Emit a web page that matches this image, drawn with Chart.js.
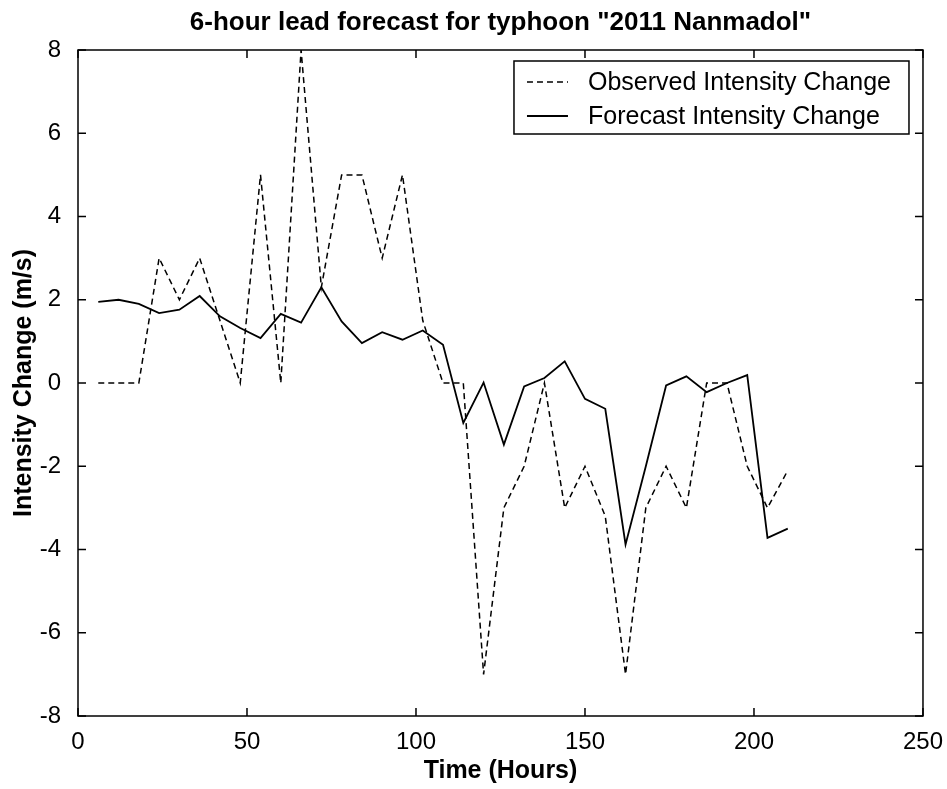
<!DOCTYPE html>
<html>
<head>
<meta charset="utf-8">
<script src="https://cdn.jsdelivr.net/npm/chart.js@4"></script>
<style>
  html, body { margin: 0; padding: 0; background: #fff; }
  #wrap { width: 947px; height: 789px; }
</style>
</head>
<body>
<div id="wrap"><canvas id="chart"></canvas></div>
<script>
// time axis, every 6 hours
var hours = [6, 12, 18, 24, 30, 36, 42, 48, 54, 60, 66, 72, 78, 84, 90, 96, 102, 108, 114, 120,
             126, 132, 138, 144, 150, 156, 162, 168, 174, 180, 186, 192, 198, 204, 210];
var observed = [0, 0, 0, 3, 2, 3, 1.5, 0, 5, 0, 8, 2.3, 5, 5, 3, 5, 1.5, 0, 0, -7,
                -3, -2, 0, -3, -2, -3.2, -7, -3, -2, -3, 0, 0, -2, -3, -2.1];
var forecast = [1.95, 2.0, 1.9, 1.68, 1.76, 2.09, 1.6, 1.32, 1.08, 1.66, 1.45, 2.3, 1.48, 0.96, 1.22, 1.04, 1.26, 0.92, -0.96, 0.01,
                -1.48, -0.08, 0.12, 0.52, -0.38, -0.62, -3.88, -2.0, -0.06, 0.16, -0.22, 0.0, 0.19, -3.72, -3.5];
var xTicks = [0, 50, 100, 150, 200, 250];
var yTicks = [-8, -6, -4, -2, 0, 2, 4, 6, 8];
var titleText = '6-hour lead forecast for typhoon "2011 Nanmadol"';

var FONT = '"Liberation Sans", Arial, sans-serif';

function pts(vals) {
    return hours.map(function (h, i) { return { x: h, y: vals[i] }; });
}

// matlab style: box, inward ticks on all sides, legend box, title
var matlabBox = {
    id: 'matlabBox',
    afterDraw: function (chart) {
        var ctx = chart.ctx;
        var a = chart.chartArea;
        var xs = chart.scales.x, ys = chart.scales.y;
        var tl = 8;
        ctx.save();
        ctx.strokeStyle = '#000';
        ctx.lineWidth = 1.5;
        ctx.strokeRect(a.left, a.top, a.right - a.left, a.bottom - a.top);
        ctx.beginPath();
        xTicks.forEach(function (v) {
            var px = xs.getPixelForValue(v);
            ctx.moveTo(px, a.bottom); ctx.lineTo(px, a.bottom - tl);
            ctx.moveTo(px, a.top); ctx.lineTo(px, a.top + tl);
        });
        yTicks.forEach(function (v) {
            var py = ys.getPixelForValue(v);
            ctx.moveTo(a.left, py); ctx.lineTo(a.left + tl, py);
            ctx.moveTo(a.right, py); ctx.lineTo(a.right - tl, py);
        });
        ctx.stroke();

        // title
        ctx.fillStyle = '#000';
        ctx.font = 'bold 26px ' + FONT;
        ctx.textAlign = 'center';
        ctx.textBaseline = 'alphabetic';
        ctx.fillText(titleText, (a.left + a.right) / 2, 30);

        // legend
        var lx = a.right - 409, ly = a.top + 11, lw = 395, lh = 73;
        ctx.fillStyle = '#fff';
        ctx.fillRect(lx, ly, lw, lh);
        ctx.lineWidth = 1.5;
        ctx.strokeRect(lx, ly, lw, lh);
        ctx.fillStyle = '#000';
        ctx.font = '25px ' + FONT;
        ctx.textAlign = 'left';
        ctx.textBaseline = 'middle';
        chart.data.datasets.forEach(function (ds, i) {
            var ry = ly + 21 + i * 34;
            ctx.beginPath();
            ctx.setLineDash(ds.borderDash || []);
            ctx.lineWidth = ds.borderWidth;
            ctx.moveTo(lx + 13, ry);
            ctx.lineTo(lx + 54, ry);
            ctx.stroke();
            ctx.setLineDash([]);
            ctx.fillText(ds.label, lx + 74, ry + 1);
        });
        ctx.restore();
    }
};

var config = {
    type: 'line',
    data: {
        datasets: [
            {
                label: 'Observed Intensity Change',
                data: pts(observed),
                borderColor: '#000',
                borderWidth: 1.5,
                borderDash: [6, 4],
                pointRadius: 0,
                tension: 0,
                fill: false
            },
            {
                label: 'Forecast Intensity Change',
                data: pts(forecast),
                borderColor: '#000',
                borderWidth: 1.8,
                pointRadius: 0,
                tension: 0,
                fill: false
            }
        ]
    },
    options: {
        responsive: true,
        maintainAspectRatio: false,
        animation: false,
        layout: { padding: { top: 50, right: 24, left: 0, bottom: 0 } },
        plugins: {
            legend: { display: false },
            title: { display: false },
            tooltip: { enabled: false }
        },
        scales: {
            x: {
                type: 'linear',
                min: 0,
                max: 250,
                afterBuildTicks: function (s) { s.ticks = xTicks.map(function (v) { return { value: v }; }); },
                afterFit: function (s) { s.height = 73; },
                grid: { display: false },
                border: { display: false },
                ticks: { color: '#000', font: { family: FONT, size: 24 }, padding: 4, maxRotation: 0 },
                title: { display: true, text: 'Time (Hours)', color: '#000', font: { family: FONT, size: 25, weight: 'bold' }, padding: { top: 0, bottom: 3 } }
            },
            y: {
                min: -8,
                max: 8,
                afterBuildTicks: function (s) { s.ticks = yTicks.map(function (v) { return { value: v }; }); },
                afterFit: function (s) { s.width = 78; },
                grid: { display: false },
                border: { display: false },
                ticks: { color: '#000', font: { family: FONT, size: 24 }, padding: 9 },
                title: { display: true, text: 'Intensity Change (m/s)', color: '#000', font: { family: FONT, size: 25, weight: 'bold' }, padding: { top: 9, bottom: 0 } }
            }
        }
    },
    plugins: [matlabBox]
};

var chart = new Chart(document.getElementById('chart'), config);
</script>
</body>
</html>
